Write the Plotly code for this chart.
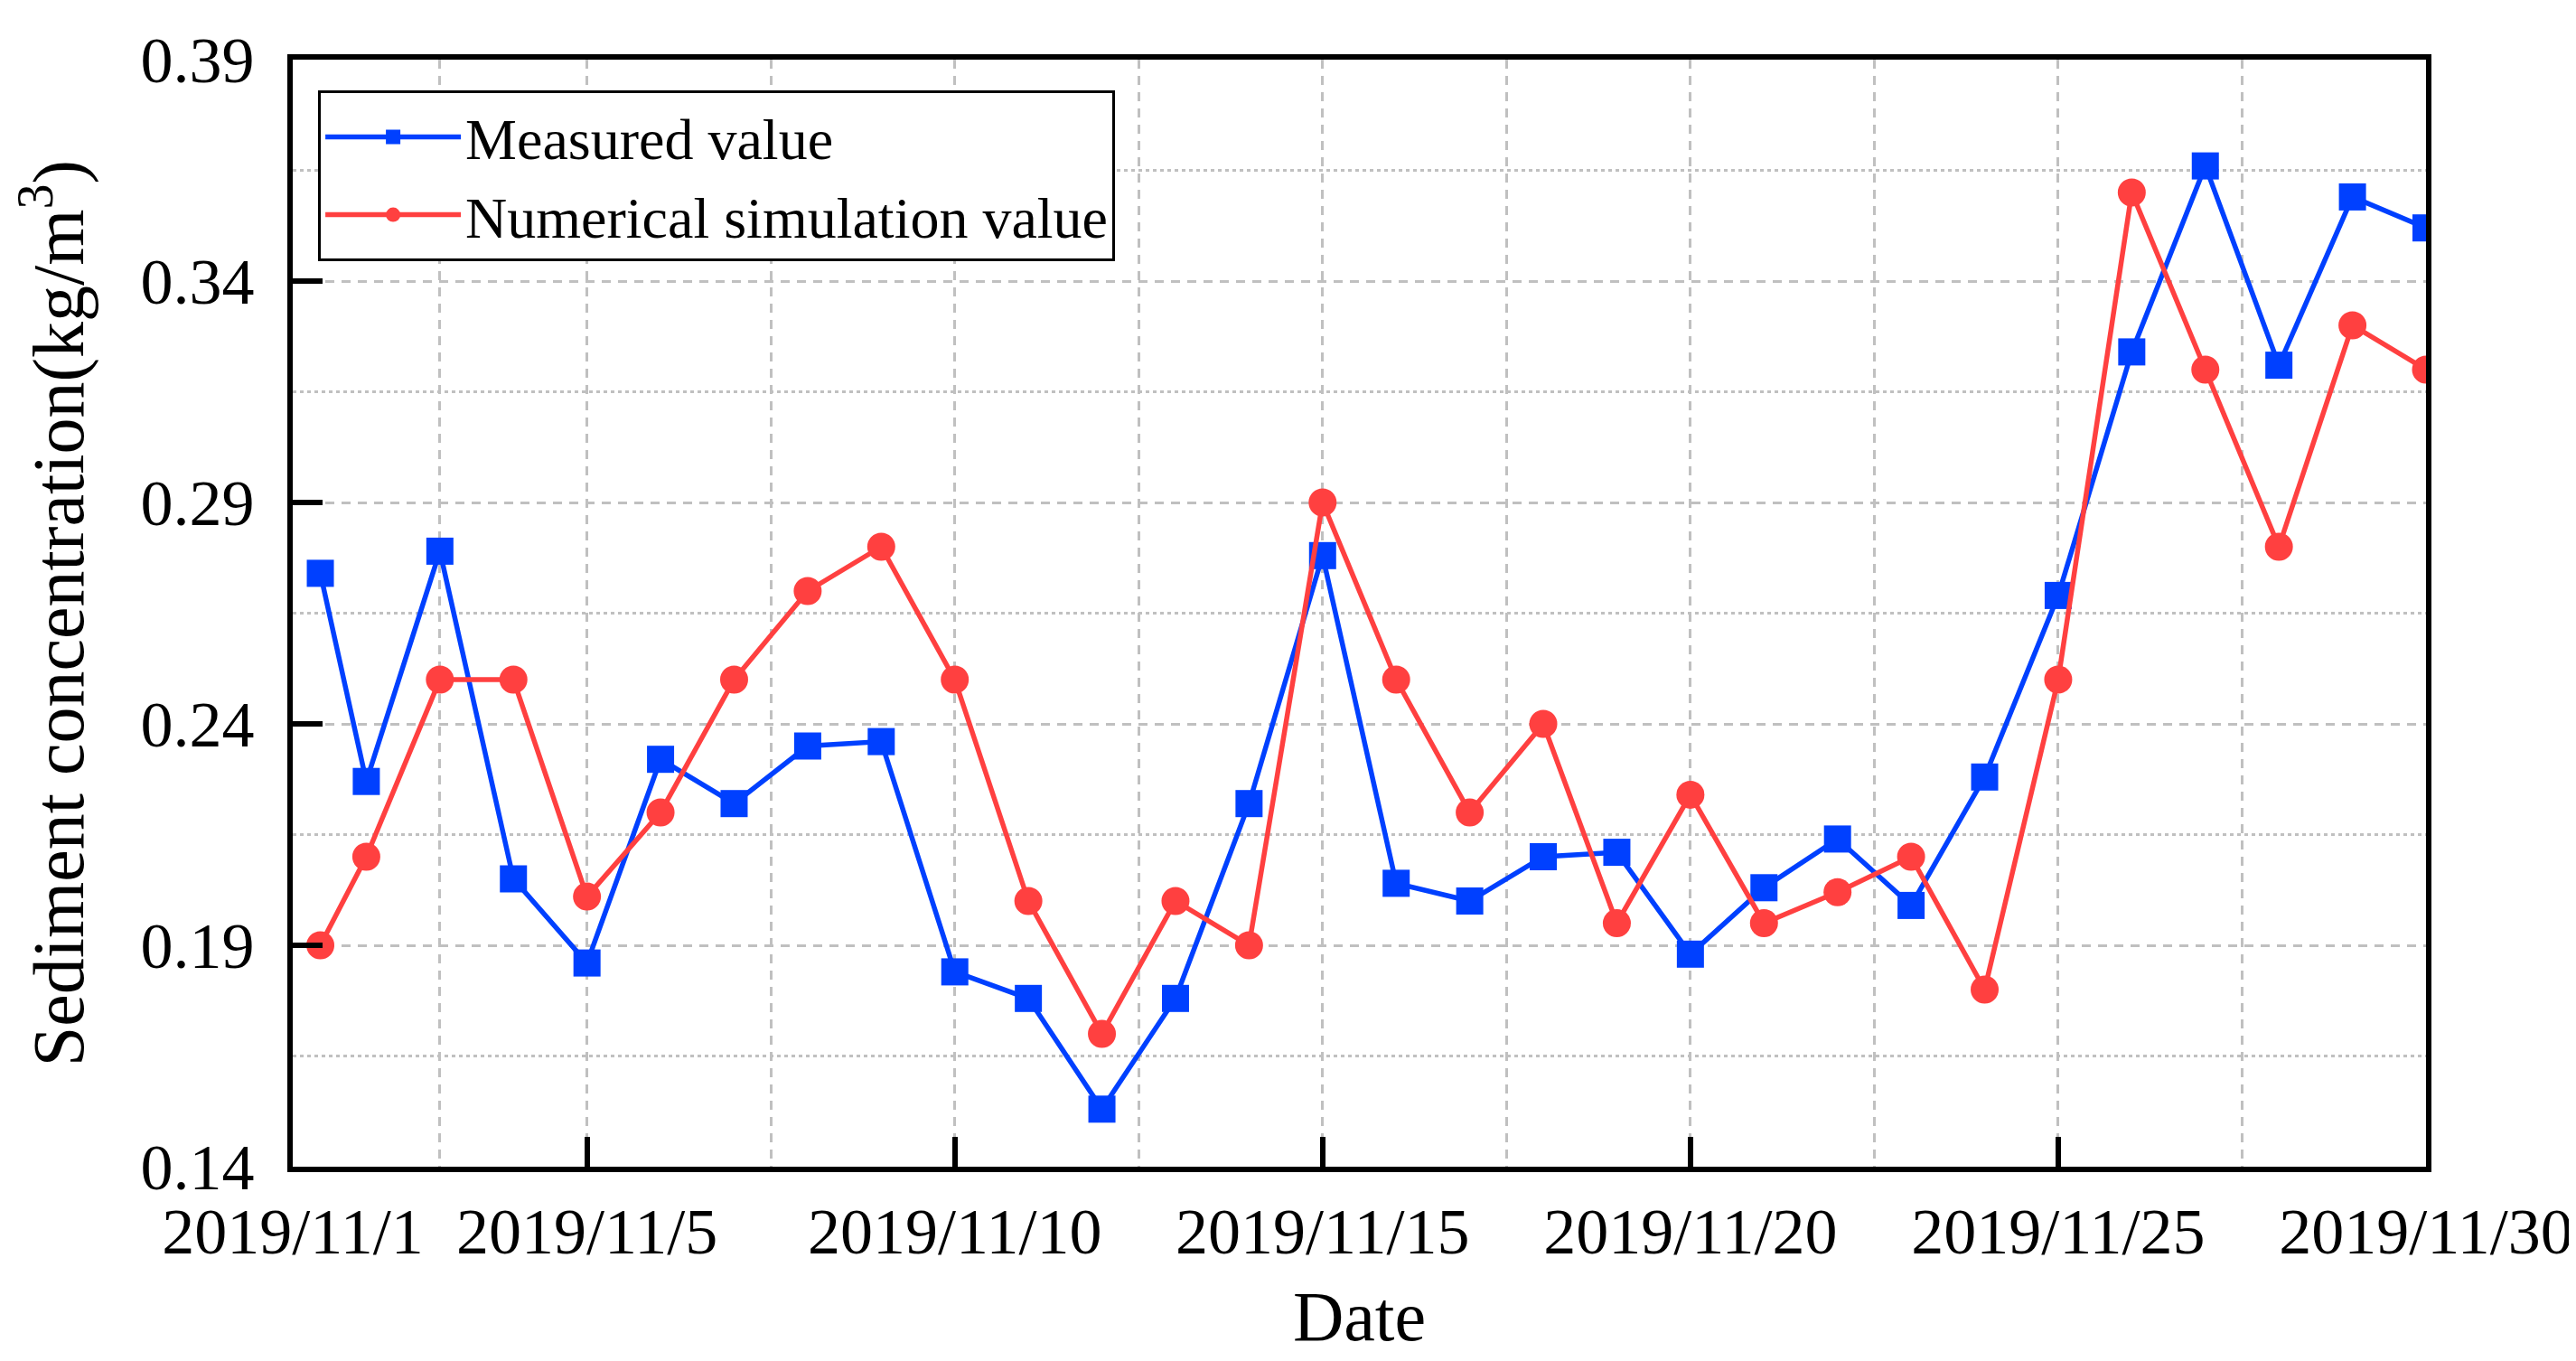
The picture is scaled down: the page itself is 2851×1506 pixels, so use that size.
import plotly.graph_objects as go

# ---- data ----
dates = ["2019-11-01 09:00", "2019-11-02", "2019-11-03", "2019-11-04", "2019-11-05",
         "2019-11-06", "2019-11-07", "2019-11-08", "2019-11-09", "2019-11-10",
         "2019-11-11", "2019-11-12", "2019-11-13", "2019-11-14", "2019-11-15",
         "2019-11-16", "2019-11-17", "2019-11-18", "2019-11-19", "2019-11-20",
         "2019-11-21", "2019-11-22", "2019-11-23", "2019-11-24", "2019-11-25",
         "2019-11-26", "2019-11-27", "2019-11-28", "2019-11-29", "2019-11-30"]

measured = [0.274, 0.227, 0.279, 0.205, 0.186, 0.232, 0.222, 0.235, 0.236, 0.184,
            0.178, 0.153, 0.178, 0.222, 0.278, 0.204, 0.200, 0.210, 0.211, 0.188,
            0.203, 0.214, 0.199, 0.228, 0.269, 0.324, 0.366, 0.321, 0.359, 0.352]

simulated = [0.190, 0.210, 0.250, 0.250, 0.201, 0.220, 0.250, 0.270, 0.280, 0.250,
             0.200, 0.170, 0.200, 0.190, 0.290, 0.250, 0.220, 0.240, 0.195, 0.224,
             0.195, 0.202, 0.210, 0.180, 0.250, 0.360, 0.320, 0.280, 0.330, 0.320]

x_tick_vals = ["2019-11-01", "2019-11-05", "2019-11-10", "2019-11-15",
               "2019-11-20", "2019-11-25", "2019-11-30"]
x_tick_text = ["2019/11/1", "2019/11/5", "2019/11/10", "2019/11/15",
               "2019/11/20", "2019/11/25", "2019/11/30"]
x_minor_vals = ["2019-11-03", "2019-11-07 12:00", "2019-11-12 12:00",
                "2019-11-17 12:00", "2019-11-22 12:00", "2019-11-27 12:00"]

y_tick_vals = [0.14, 0.19, 0.24, 0.29, 0.34, 0.39]
y_tick_text = ["0.14", "0.19", "0.24", "0.29", "0.34", "0.39"]
y_minor_vals = [0.165, 0.215, 0.265, 0.315, 0.365]

BLUE = "#0040FF"
RED = "#FF4040"
GRID = "#C0C0C0"
FONT = "Liberation Serif"

fig = go.Figure()
fig.add_trace(go.Scatter(
    x=dates, y=measured, mode="lines+markers", name="Measured value",
    line=dict(color=BLUE, width=5.5),
    marker=dict(symbol="square", size=30, color=BLUE),
))
fig.add_trace(go.Scatter(
    x=dates, y=simulated, mode="lines+markers", name="Numerical simulation value",
    line=dict(color=RED, width=5.5),
    marker=dict(symbol="circle", size=31, color=RED),
))

fig.update_layout(
    width=2851, height=1506,
    margin=dict(l=316, r=174, t=58, b=223, autoexpand=False),
    paper_bgcolor="white", plot_bgcolor="white",
    font=dict(family=FONT, color="black", size=72),
    showlegend=True,
    legend=dict(
        x=0.0119, y=0.972, xanchor="left", yanchor="top",
        bgcolor="white", bordercolor="black", borderwidth=3,
        font=dict(family=FONT, size=64, color="black"),
        tracegroupgap=0, itemwidth=150,
    ),
)

fig.update_xaxes(
    type="date",
    range=["2019-11-01", "2019-11-30"],
    tickmode="array", tickvals=x_tick_vals, ticktext=x_tick_text,
    tickfont=dict(family=FONT, size=72, color="black"),
    ticks="inside", ticklen=33, tickwidth=6, tickcolor="black",
    ticklabelstandoff=4,
    showline=True, linecolor="black", linewidth=6, mirror=True,
    showgrid=True, gridcolor=GRID, gridwidth=3, griddash="10px,8px",
    minor=dict(tickmode="array", tickvals=x_minor_vals, showgrid=True,
               gridcolor=GRID, gridwidth=3, griddash="10px,8px", ticks=""),
    zeroline=False,
    title=dict(text="Date", font=dict(family=FONT, size=78, color="black"), standoff=28),
)

fig.update_yaxes(
    range=[0.14, 0.39],
    tickmode="array", tickvals=y_tick_vals, ticktext=y_tick_text,
    tickfont=dict(family=FONT, size=72, color="black"),
    ticks="inside", ticklen=33, tickwidth=6, tickcolor="black",
    ticklabelstandoff=22,
    showline=True, linecolor="black", linewidth=6, mirror=True,
    showgrid=True, gridcolor=GRID, gridwidth=3, griddash="10px,8px",
    minor=dict(tickmode="array", tickvals=y_minor_vals, showgrid=True,
               gridcolor=GRID, gridwidth=3, griddash="4px,4px", ticks=""),
    zeroline=False,
    title=dict(text="Sediment concentration(kg/m<sup>3</sup>)",
               font=dict(family=FONT, size=80, color="black"), standoff=52),
)

fig.write_html("out.html")
